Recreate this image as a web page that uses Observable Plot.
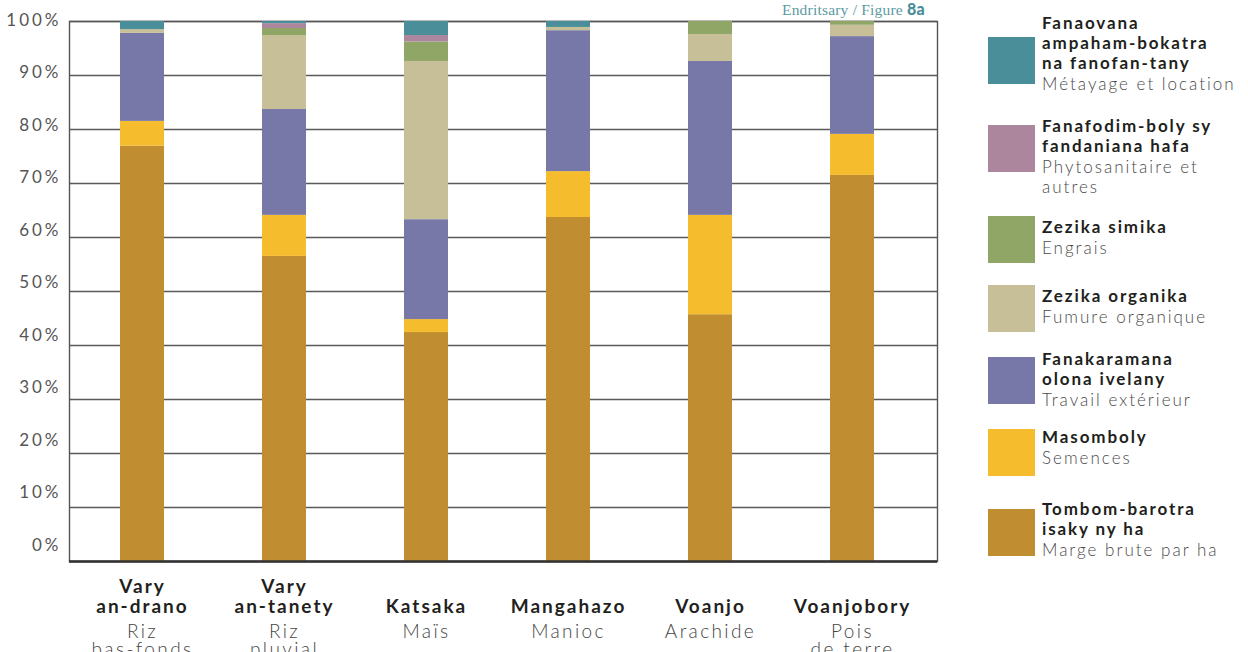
<!DOCTYPE html>
<html><head><meta charset="utf-8">
<script src="https://cdn.jsdelivr.net/npm/d3@7"></script>
<script src="https://cdn.jsdelivr.net/npm/@observablehq/plot@0.6"></script>
<style>
body{margin:0;background:#fff;font-family:Lato,"Open Sans",sans-serif;}
#wrap{position:relative;width:1248px;height:652px;overflow:hidden;}
#chart{position:absolute;left:0;top:0;}
#credit{position:absolute;left:782px;top:-1px;font-family:"Liberation Serif",serif;color:#5d9aa2;font-size:15.5px;white-space:nowrap;letter-spacing:0.2px;}
#credit b{font-family:Lato,sans-serif;font-weight:900;color:#4a8e99;font-size:16px;}
#legend{position:absolute;left:988px;top:0;width:260px;height:652px;}
.sw{position:absolute;left:0;width:47px;height:47px;}
.txt{position:absolute;left:54px;white-space:nowrap;font-size:17px;line-height:20px;}
.mg{font-weight:700;color:#231f20;letter-spacing:1.9px;}
.fr{font-weight:300;color:#4a4a4a;letter-spacing:2px;margin-top:1px;}
.ytick text{letter-spacing:3px;}
.xmg text{letter-spacing:2px;}
.xfr text{letter-spacing:2.4px;}
</style>
</head><body>
<div id="wrap">
  <div id="chart"></div>
  <div id="credit">Endritsary / Figure <b>8a</b></div>
  <div id="legend"></div>
</div>
<script>
// ---- Data ----
const cropKeys = ["drano", "tanety", "katsaka", "mangahazo", "voanjo", "voanjobory"];
const cropsMg = ["Vary\nan-drano", "Vary\nan-tanety", "Katsaka", "Mangahazo", "Voanjo", "Voanjobory"];
const cropsFr = ["Riz\nbas-fonds", "Riz\npluvial", "Maïs", "Manioc", "Arachide", "Pois\nde terre"];

// stacking order bottom -> top
const catKeys   = ["marge", "semences", "travail", "fumure", "engrais", "phyto", "metayage"];
const catMg = ["Tombom-barotra\nisaky ny ha", "Masomboly", "Fanakaramana\nolona ivelany", "Zezika organika", "Zezika simika", "Fanafodim-boly sy\nfandaniana hafa", "Fanaovana\nampaham-bokatra\nna fanofan-tany"];
const catFr = ["Marge brute par ha", "Semences", "Travail extérieur", "Fumure organique", "Engrais", "Phytosanitaire et\nautres", "Métayage et location"];
const catColors = ["#c08d30", "#f5bd2e", "#7878a8", "#c7bf98", "#8fa666", "#ab869d", "#4a8e99"];

// values in % per crop (order of cropKeys)
const marge    = [76.9, 56.5, 42.4, 63.7, 45.7, 71.5];
const semences = [4.6, 7.6, 2.4, 8.5, 18.4, 7.6];
const travail  = [16.3, 19.6, 18.5, 26.1, 28.5, 18.1];
const fumure   = [0.7, 13.7, 29.3, 0.6, 5.0, 2.1];
const engrais  = [0, 1.3, 3.6, 0, 2.4, 0.7];
const phyto    = [0, 0.9, 1.2, 0, 0, 0];
const metayage = [1.5, 0.4, 2.6, 1.1, 0, 0];
const series = [marge, semences, travail, fumure, engrais, phyto, metayage];

const yTicks = [0, 10, 20, 30, 40, 50, 60, 70, 80, 90, 100];

// ---- Table ----
const table = [];
cropKeys.forEach((c, i) => catKeys.forEach((k, j) => table.push({crop: c, cat: k, value: series[j][i]})));
const labels = cropKeys.map((c, i) => ({crop: c, mg: cropsMg[i], fr: cropsFr[i]}));

// tick labels sit slightly above their gridlines, more so near the bottom
const tickLabelMarks = yTicks.map(v => Plot.axisY([v], {
  tickFormat: d => d + "%", tickSize: 0, tickPadding: 8, dy: -16 + 0.15 * v,
  fontSize: 17, fill: "#555", label: null, className: "ytick"
}));

const chart = Plot.plot({
  width: 950, height: 690,
  marginLeft: 69, marginRight: 13, marginTop: 21, marginBottom: 129,
  style: {fontFamily: "Lato, sans-serif", background: "transparent"},
  x: {domain: cropKeys, paddingInner: 0.69, paddingOuter: 0.345, insetLeft: 2, insetRight: 13, axis: null},
  y: {domain: [0, 100], axis: null, label: null},
  color: {domain: catKeys, range: catColors},
  marks: [
    Plot.gridY(yTicks, {stroke: "#5a5a5a", strokeOpacity: 1, strokeWidth: 1.4}),
    Plot.frame({stroke: "#555", strokeWidth: 1.4}),
    Plot.barY(table, Plot.stackY({order: catKeys}, {x: "crop", y: "value", z: "cat", fill: "cat"})),
    Plot.ruleY([0], {stroke: "#333", strokeWidth: 2.5}),
    ...tickLabelMarks,
    Plot.text(labels, {x: "crop", text: "mg", frameAnchor: "bottom", lineAnchor: "bottom", dy: 51, fontSize: 19, fontWeight: 700, fill: "#231f20", lineHeight: 1.02, className: "xmg"}),
    Plot.text(labels, {x: "crop", text: "fr", frameAnchor: "bottom", lineAnchor: "top", dy: 63, fontSize: 19, fontWeight: 300, fill: "#444", lineHeight: 0.98, className: "xfr"})
  ]
});
document.getElementById("chart").appendChild(chart);

// ---- Legend (top -> bottom: reverse of stack order) ----
const legendTops = [37, 125, 216, 285, 357, 429, 509];
const legendTextTops = [13, 116, 217, 286, 349, 427, 499];
const legend = document.getElementById("legend");
catKeys.slice().reverse().forEach((k, r) => {
  const j = catKeys.length - 1 - r;
  const sw = document.createElement("div");
  sw.className = "sw";
  sw.style.top = legendTops[r] + "px";
  sw.style.background = catColors[j];
  legend.appendChild(sw);
  const t = document.createElement("div");
  t.className = "txt";
  t.style.top = legendTextTops[r] + "px";
  t.innerHTML = `<div class="mg">${catMg[j].replace(/\n/g, "<br>")}</div><div class="fr">${catFr[j].replace(/\n/g, "<br>")}</div>`;
  legend.appendChild(t);
});
</script>
</body></html>
